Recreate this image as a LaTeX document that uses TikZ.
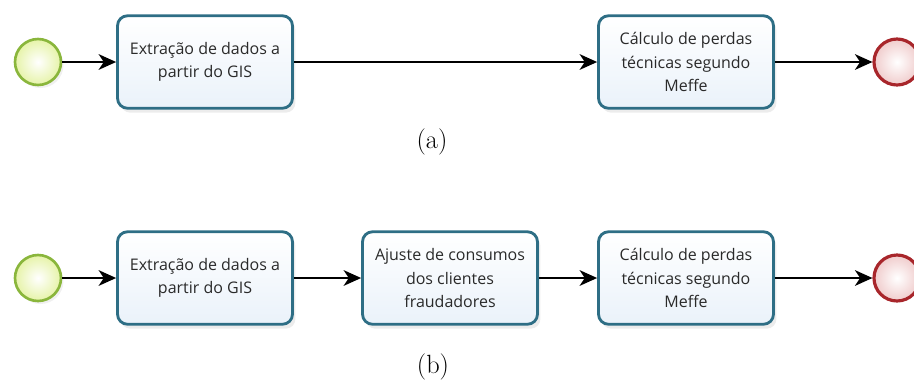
\documentclass[tikz,border=0pt]{standalone}
\usepackage{fontspec}
\newfontfamily\boxfont{Open Sans}
\usetikzlibrary{shadows}
\usetikzlibrary{arrows.meta}
\definecolor{taskline}{HTML}{2E6E85}
\definecolor{taskfill}{HTML}{EAF2FA}
\definecolor{startline}{HTML}{8AB63C}
\definecolor{startfill}{HTML}{E6F3A8}
\definecolor{stopline}{HTML}{A8262B}
\definecolor{stopfill}{HTML}{F0CCCC}
\definecolor{textgray}{HTML}{2A2A2A}
\tikzset{
	task/.style={rectangle,rounded corners=0.2cm,draw=taskline,line width=1.6pt,top color=white,bottom color=taskfill,minimum width=3.5cm,minimum height=1.85cm,align=center,text=textgray,font=\boxfont\fontsize{9.1}{13.4}\selectfont,drop shadow={opacity=0.15,shadow xshift=0.06cm,shadow yshift=-0.09cm}},
	startev/.style={circle,draw=startline,line width=1.5pt,inner color=white,outer color=startfill,minimum size=0.92cm,inner sep=0pt,drop shadow={opacity=0.12,shadow xshift=0.05cm,shadow yshift=-0.06cm}},
	endev/.style={circle,draw=stopline,line width=1.8pt,inner color=white,outer color=stopfill,minimum size=0.92cm,inner sep=0pt},
	flow/.style={line width=0.8pt,-{Stealth[length=10pt,width=9pt,inset=3pt]}},
	labl/.style={font=\fontsize{15}{17}\selectfont},
}
\begin{document}
\begin{tikzpicture}[x=0.02cm,y=-0.02cm]
\useasboundingbox (0,0) rectangle (914,383);

% (a)
\node (sa) at (38,62) [startev] {};
\node (ta1) at (205,62) [task] {Extração de dados a\\partir do GIS};
\node (ta2) at (686,62) [task] {Cálculo de perdas\\técnicas segundo\\Meffe};
\node (ea) at (897,62) [endev] {};
\node (la) at (432,142) [labl] {(a)};
\draw [flow] (sa) -- (ta1);
\draw [flow] (ta1) -- (ta2);
\draw [flow] (ta2) -- (ea);

% (b)
\node (sb) at (38,278) [startev] {};
\node (tb1) at (205,278) [task] {Extração de dados a\\partir do GIS};
\node (tb2) at (450,278) [task] {Ajuste de consumos\\dos clientes\\fraudadores};
\node (tb3) at (686,278) [task] {Cálculo de perdas\\técnicas segundo\\Meffe};
\node (eb) at (897,278) [endev] {};
\node (lb) at (433,367) [labl] {(b)};
\draw [flow] (sb) -- (tb1);
\draw [flow] (tb1) -- (tb2);
\draw [flow] (tb2) -- (tb3);
\draw [flow] (tb3) -- (eb);
\end{tikzpicture}
\end{document}
